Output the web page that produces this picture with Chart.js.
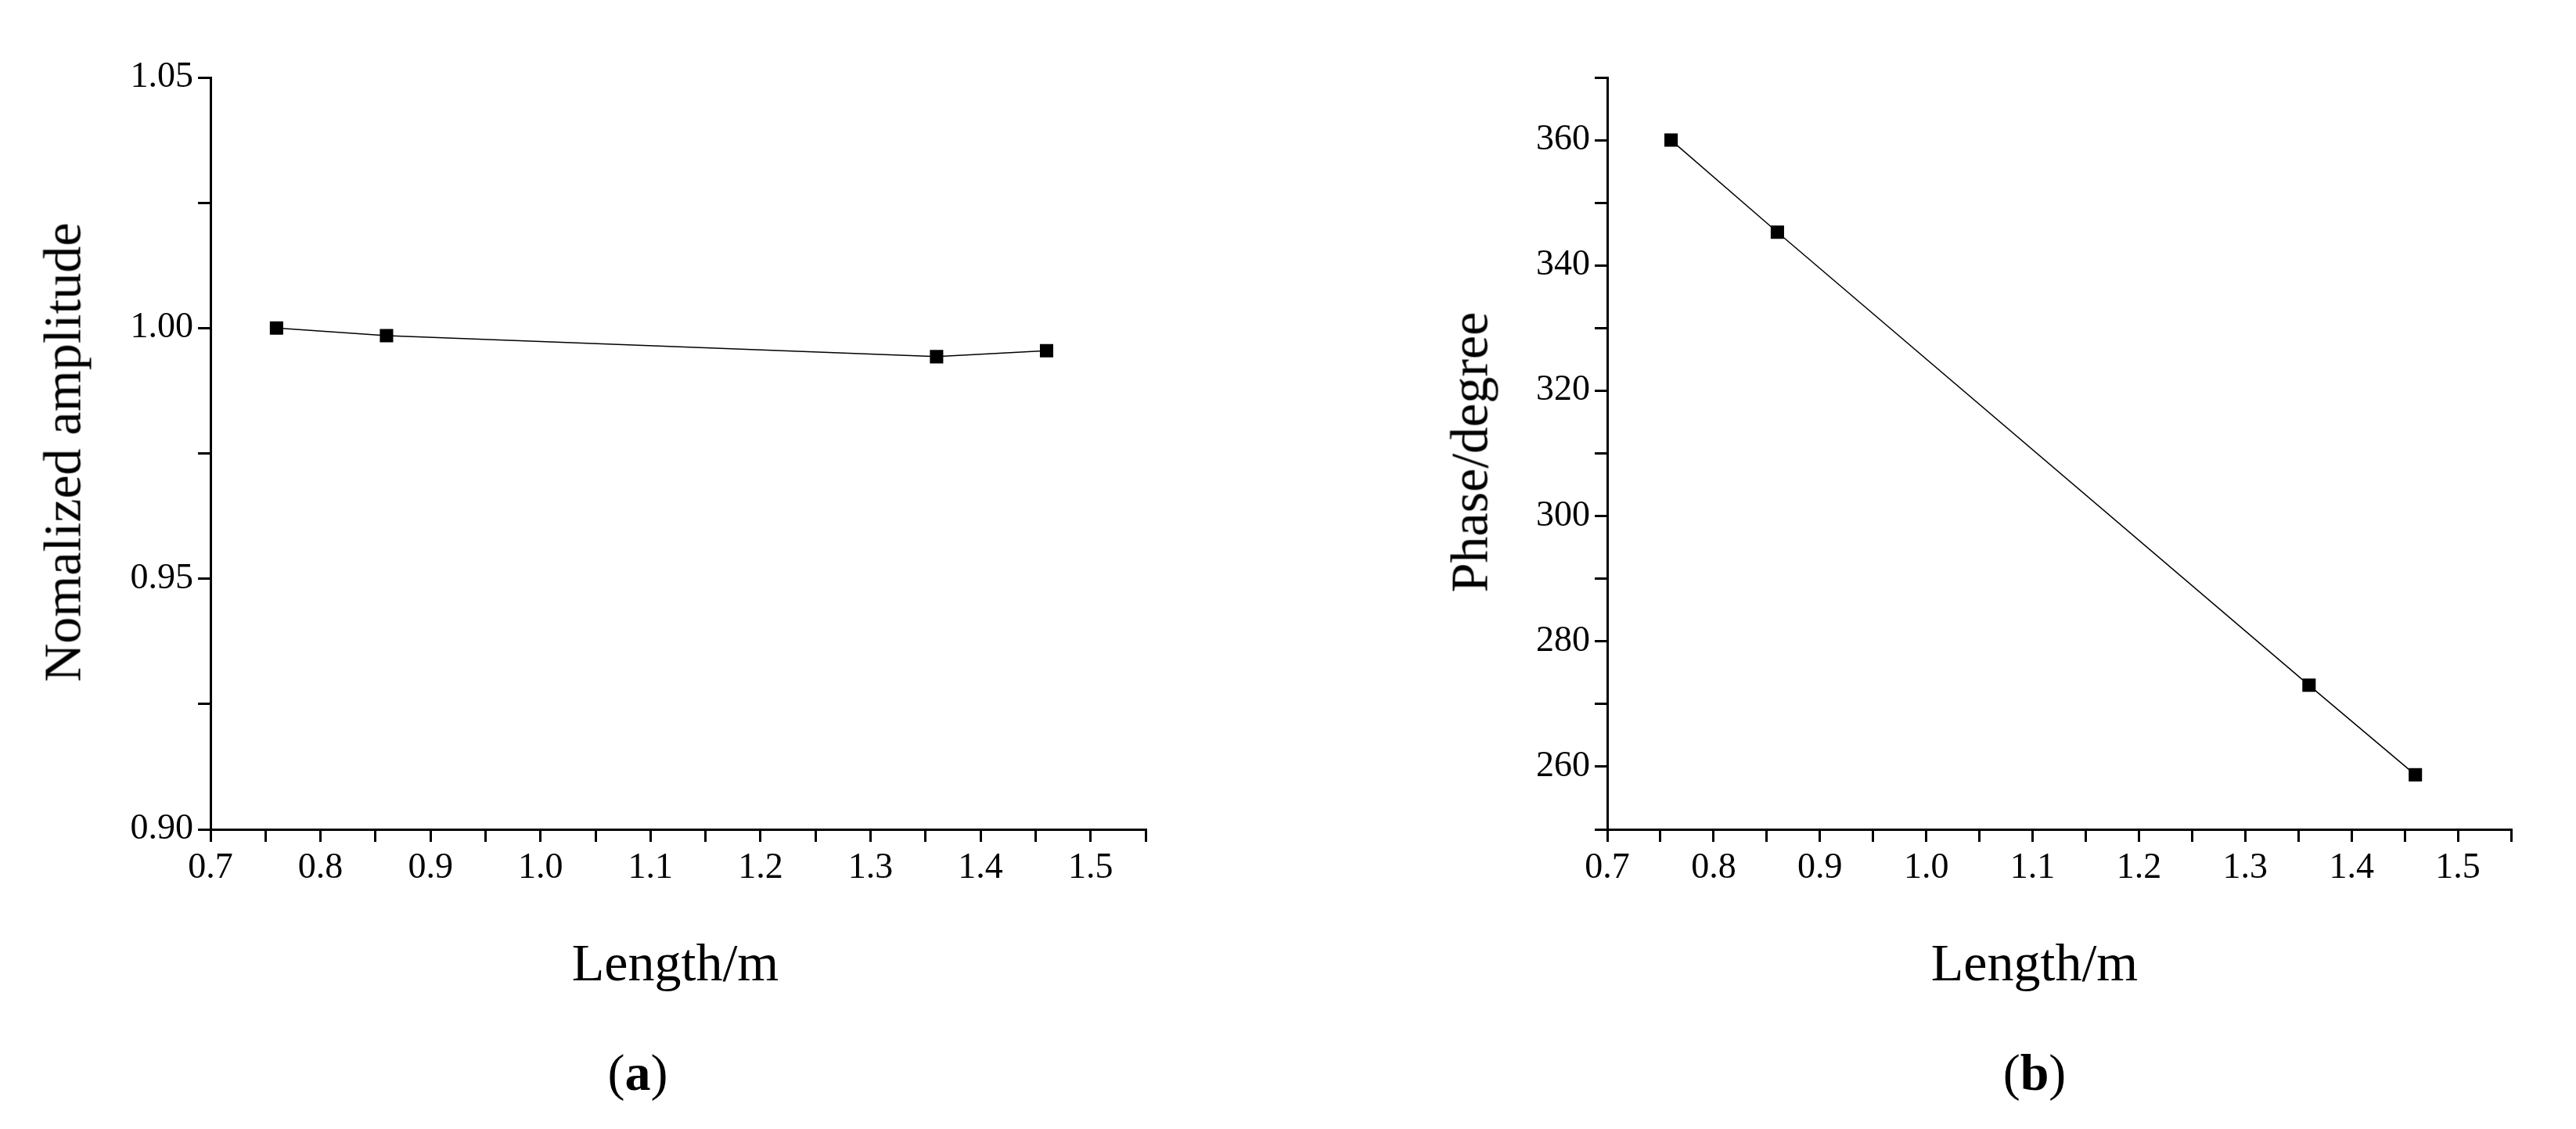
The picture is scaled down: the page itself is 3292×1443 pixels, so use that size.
<!DOCTYPE html>
<html>
<head>
<meta charset="utf-8">
<script src="https://cdn.jsdelivr.net/npm/chart.js@4"></script>
<style>
  body { margin: 0; background: #fff; width: 3292px; height: 1443px; position: relative; overflow: hidden; font-family: "Liberation Serif", serif; }
  .box { position: absolute; top: 0; width: 1646px; height: 1443px; }
  .t { position: absolute; color: #000; font-size: 68px; white-space: nowrap; transform: translate(-50%, -50%); }
  .yt { transform: translate(-50%, -50%) rotate(-90deg); }
  .lab { font-size: 66px; }
</style>
</head>
<body>
<div class="box" style="left:0"><canvas id="c1"></canvas></div>
<div class="box" style="left:1646px"><canvas id="c2"></canvas></div>
<div class="t" style="left:863px;top:1230px">Length/m</div>
<div class="t" style="left:2600px;top:1230px">Length/m</div>
<div class="t yt" style="left:80px;top:578px">Nomalized amplitude</div>
<div class="t yt" style="left:1878px;top:578px">Phase/degree</div>
<div class="t lab" style="left:815px;top:1371px">(<b>a</b>)</div>
<div class="t lab" style="left:2600px;top:1371px">(<b>b</b>)</div>
<script>
// data
const lengths = [0.76, 0.86, 1.36, 1.46];
const amplitude = [1.000, 0.9985, 0.9943, 0.9955];
const phase = [360, 345.3, 273, 258.7];
const xTicks = [0.7, 0.8, 0.9, 1.0, 1.1, 1.2, 1.3, 1.4, 1.5];
const ampTicks = [0.90, 0.95, 1.00, 1.05];
const phaseTicks = [260, 280, 300, 320, 340, 360];

function pts(ys) { return lengths.map((x, i) => ({ x: x, y: ys[i] })); }

function near(v, list) { return list.find(t => Math.abs(t - v) < 1e-6); }

function makeChart(id, ys, yMin, yMax, yStep, yLabels, yDigits, yWidth, padRight) {
  new Chart(document.getElementById(id), {
    type: "line",
    data: { datasets: [{ data: pts(ys), borderColor: "#000", borderWidth: 1.5,
      pointStyle: "rect", pointRadius: 11, pointBackgroundColor: "#000", pointBorderColor: "#000", tension: 0 }] },
    options: {
      responsive: false, animation: false,
      layout: { padding: { top: 99, right: padRight, bottom: 0, left: 0 } },
      plugins: { legend: { display: false }, tooltip: { enabled: false } },
      scales: {
        x: {
          type: "linear", min: 0.7, max: 1.55,
          afterFit: s => { s.height = 383; },
          border: { color: "#000", width: 3 },
          grid: { drawOnChartArea: false, drawTicks: true, tickLength: 16, color: "#000", lineWidth: 3 },
          ticks: { stepSize: 0.05, autoSkip: false, maxRotation: 0, color: "#000", padding: 6,
            font: { family: "Liberation Serif", size: 46 },
            callback: v => { const t = near(v, xTicks); return t === undefined ? "" : t.toFixed(1); } }
        },
        y: {
          min: yMin, max: yMax,
          afterFit: s => { s.width = yWidth; },
          border: { color: "#000", width: 3 },
          grid: { drawOnChartArea: false, drawTicks: true, tickLength: 16, color: "#000", lineWidth: 3 },
          ticks: { stepSize: yStep, autoSkip: false, color: "#000", padding: 6,
            font: { family: "Liberation Serif", size: 46 },
            callback: v => { const t = near(v, yLabels); return t === undefined ? "" : t.toFixed(yDigits); } }
        }
      }
    }
  });
}

for (const id of ["c1", "c2"]) {
  const c = document.getElementById(id);
  c.width = 1646; c.height = 1443;
}
makeChart("c1", amplitude, 0.9, 1.05, 0.025, ampTicks, 2, 269, 182);
makeChart("c2", phase, 250, 370, 10, phaseTicks, 0, 408, 83);
</script>
</body>
</html>
